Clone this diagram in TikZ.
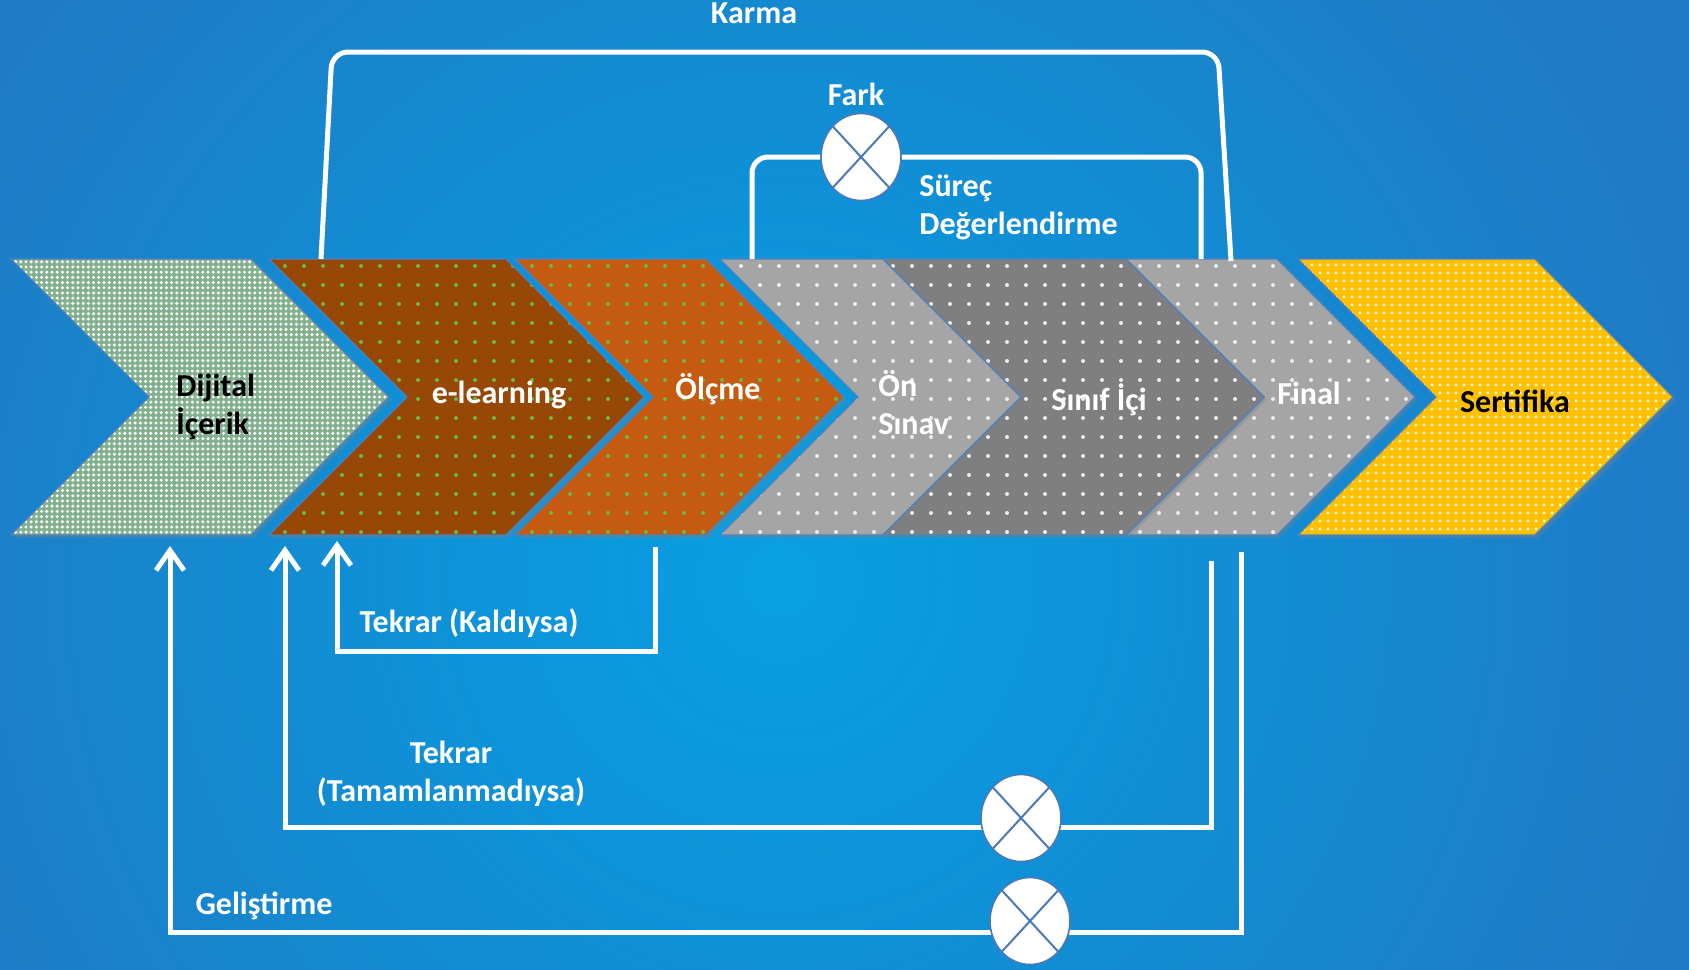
\documentclass[tikz,border=0pt]{standalone}
\usepackage{fontspec}
\setmainfont{Carlito}
\usetikzlibrary{arrows.meta}
\usetikzlibrary{shapes.geometric}
\usetikzlibrary{shadows,patterns}
\definecolor{bgin}{HTML}{0A9FE3}
\definecolor{bgmid}{HTML}{0D93D9}
\definecolor{bgtop}{HTML}{1B80C9}
\definecolor{bgside}{HTML}{2672BE}
\definecolor{bgout}{HTML}{2E69B3}
\definecolor{bgcorner}{HTML}{3165AD}
\definecolor{chevline}{HTML}{4F81BD}
\definecolor{circline}{HTML}{4A78B8}
\definecolor{digfill}{HTML}{82B08D}
\definecolor{elfill}{HTML}{974706}
\definecolor{olcfill}{HTML}{C55A11}
\definecolor{grayfill}{HTML}{A5A5A5}
\definecolor{darkfill}{HTML}{7F7F7F}
\definecolor{sertfill}{HTML}{FFC000}
\definecolor{dotgreen}{HTML}{6DB84A}
\pgfdeclareradialshading{bgglow}{\pgfpoint{0bp}{0bp}}{%
  color(0bp)=(bgin); color(8bp)=(bgmid); color(20bp)=(bgtop);
  color(32bp)=(bgside); color(42bp)=(bgout); color(71bp)=(bgcorner)}
\pgfdeclarepatternformonly{sparse dots}{\pgfqpoint{-1.5pt}{-1.5pt}}{\pgfqpoint{1.5pt}{1.5pt}}%
  {\pgfqpoint{9.5pt}{9.5pt}}{\pgfpathcircle{\pgfpointorigin}{1pt}\pgfusepath{fill}}
\pgfdeclarepatternformonly{dense dots}{\pgfqpoint{-1pt}{-1pt}}{\pgfqpoint{1pt}{1pt}}%
  {\pgfqpoint{4pt}{4pt}}{\pgfpathcircle{\pgfpointorigin}{0.8pt}\pgfusepath{fill}}
\pgfdeclarepatternformonly{fine dots}{\pgfqpoint{-1pt}{-1pt}}{\pgfqpoint{1pt}{1pt}}%
  {\pgfqpoint{2.6pt}{2.6pt}}{\pgfpathcircle{\pgfpointorigin}{0.85pt}\pgfusepath{fill}}
\newcommand*{\chevshape}[3]{%
  \path [chev, #1] (#2,259) -- (#3,259) -- ++(138,138) -- (#3,535)
    -- (#2,535) -- ++(138,-138) -- cycle;
}

\begin{document}
\begin{tikzpicture}[x=0.5pt, y=-0.5pt,
    chev/.style = {draw = chevline, line width = 0.6pt,
                   drop shadow = {shadow xshift = 1.2pt, shadow yshift = -1.5pt, opacity = .35}},
    dig/.style = {preaction = {fill = digfill}, pattern = fine dots, pattern color = white},
    elearn/.style = {preaction = {fill = elfill}, pattern = sparse dots, pattern color = dotgreen},
    olc/.style = {preaction = {fill = olcfill}, pattern = sparse dots, pattern color = dotgreen},
    light/.style = {preaction = {fill = grayfill}, pattern = sparse dots, pattern color = white!85!gray},
    dark/.style = {preaction = {fill = darkfill}, pattern = sparse dots, pattern color = white!85!gray},
    sert/.style = {preaction = {fill = sertfill}, pattern = dense dots, pattern color = white!90!sertfill},
    lbl/.style = {font = \fontsize{16}{19}\selectfont\bfseries, text = white, inner sep = 1pt},
    link/.style = {draw = white, line width = 2.5pt},
    arr/.style = {-{Straight Barb[length = 10pt, width = 14pt]}},
    sumjn/.style = {ellipse, draw = circline, line width = 0.8pt, fill = white,
                    minimum width = 40pt, minimum height = 43.5pt, inner sep = 0pt,
                    path picture = {\draw [circline, line width = 1pt]
                      (path picture bounding box.north west) -- (path picture bounding box.south east)
                      (path picture bounding box.north east) -- (path picture bounding box.south west);}}]
  \useasboundingbox (0,0) rectangle (1689,969);
  \begin{scope}
    \clip (0,0) rectangle (1689,969);
    \shade [shading = bgglow] (-220,-420) rectangle (1780,1580);
  \end{scope}

  \chevshape{dig}{11}{251}
  \chevshape{olc}{515}{706}
  \chevshape{elearn}{269}{506}
  \chevshape{light}{720}{883}
  \chevshape{light}{1126}{1277}
  \chevshape{dark}{883}{1126}
  \chevshape{sert}{1298}{1535}

  \node [lbl, text = black, align = left, anchor = west] (digtxt) at (174,407) {Dijital\\İçerik};
  \node [lbl] (eltxt) at (499,395) {e-learning};
  \node [lbl] (olctxt) at (718,389) {Ölçme};
  \node [lbl, align = left, anchor = west] (ontxt) at (876,403) {Ön\\Sınav};
  \node [lbl] (sintxt) at (1099,400) {Sınıf İçi};
  \node [lbl] (fintxt) at (1309,393) {Final};
  \node [lbl, text = black] (serttxt) at (1515,401) {Sertifika};

  \coordinate (karmaL) at (321,259);
  \coordinate (karmaTL) at (332,52);
  \coordinate (karmaTR) at (1218,52);
  \coordinate (karmaR) at (1231,261);
  \draw [link, rounded corners = 8pt] (karmaL) -- (karmaTL) -- (karmaTR) -- (karmaR);
  \node [lbl] (karma) at (754,13) {Karma};

  \node [sumjn] (fark) at (861,157) {};
  \coordinate (farkL) at (752,259);
  \coordinate (farkR) at (1201,259);
  \draw [link, rounded corners = 8pt] (farkL) |- (fark.west);
  \draw [link, rounded corners = 8pt] (fark.east) -| (farkR);
  \node [lbl] (farktxt) at (856,94) {Fark};
  \node [lbl, align = left, anchor = west] (surec) at (917,207) {Süreç\\Değerlendirme};

  \coordinate (kalA) at (655,547);
  \coordinate (kalLow) at (337,651);
  \coordinate (kalB) at (337,541);
  \draw [link, arr] (kalA) |- (kalLow) -- (kalB);
  \node [lbl] (kaltxt) at (469,623) {Tekrar (Kaldıysa)};

  \coordinate (tamA) at (1211,561);
  \coordinate (tamLow) at (285,827);
  \coordinate (tamB) at (285,546);
  \draw [link, arr] (tamA) |- (tamLow) -- (tamB);
  \node [sumjn] (tam) at (1021,818) {};
  \node [lbl, align = center] (tamtxt) at (451,774) {Tekrar\\(Tamamlanmadıysa)};

  \coordinate (gelA) at (1241,552);
  \coordinate (gelLow) at (170,932);
  \coordinate (gelB) at (170,546);
  \draw [link, arr] (gelA) |- (gelLow) -- (gelB);
  \node [sumjn] (gel) at (1030,921) {};
  \node [lbl] (geltxt) at (264,906) {Geliştirme};
\end{tikzpicture}
\end{document}
